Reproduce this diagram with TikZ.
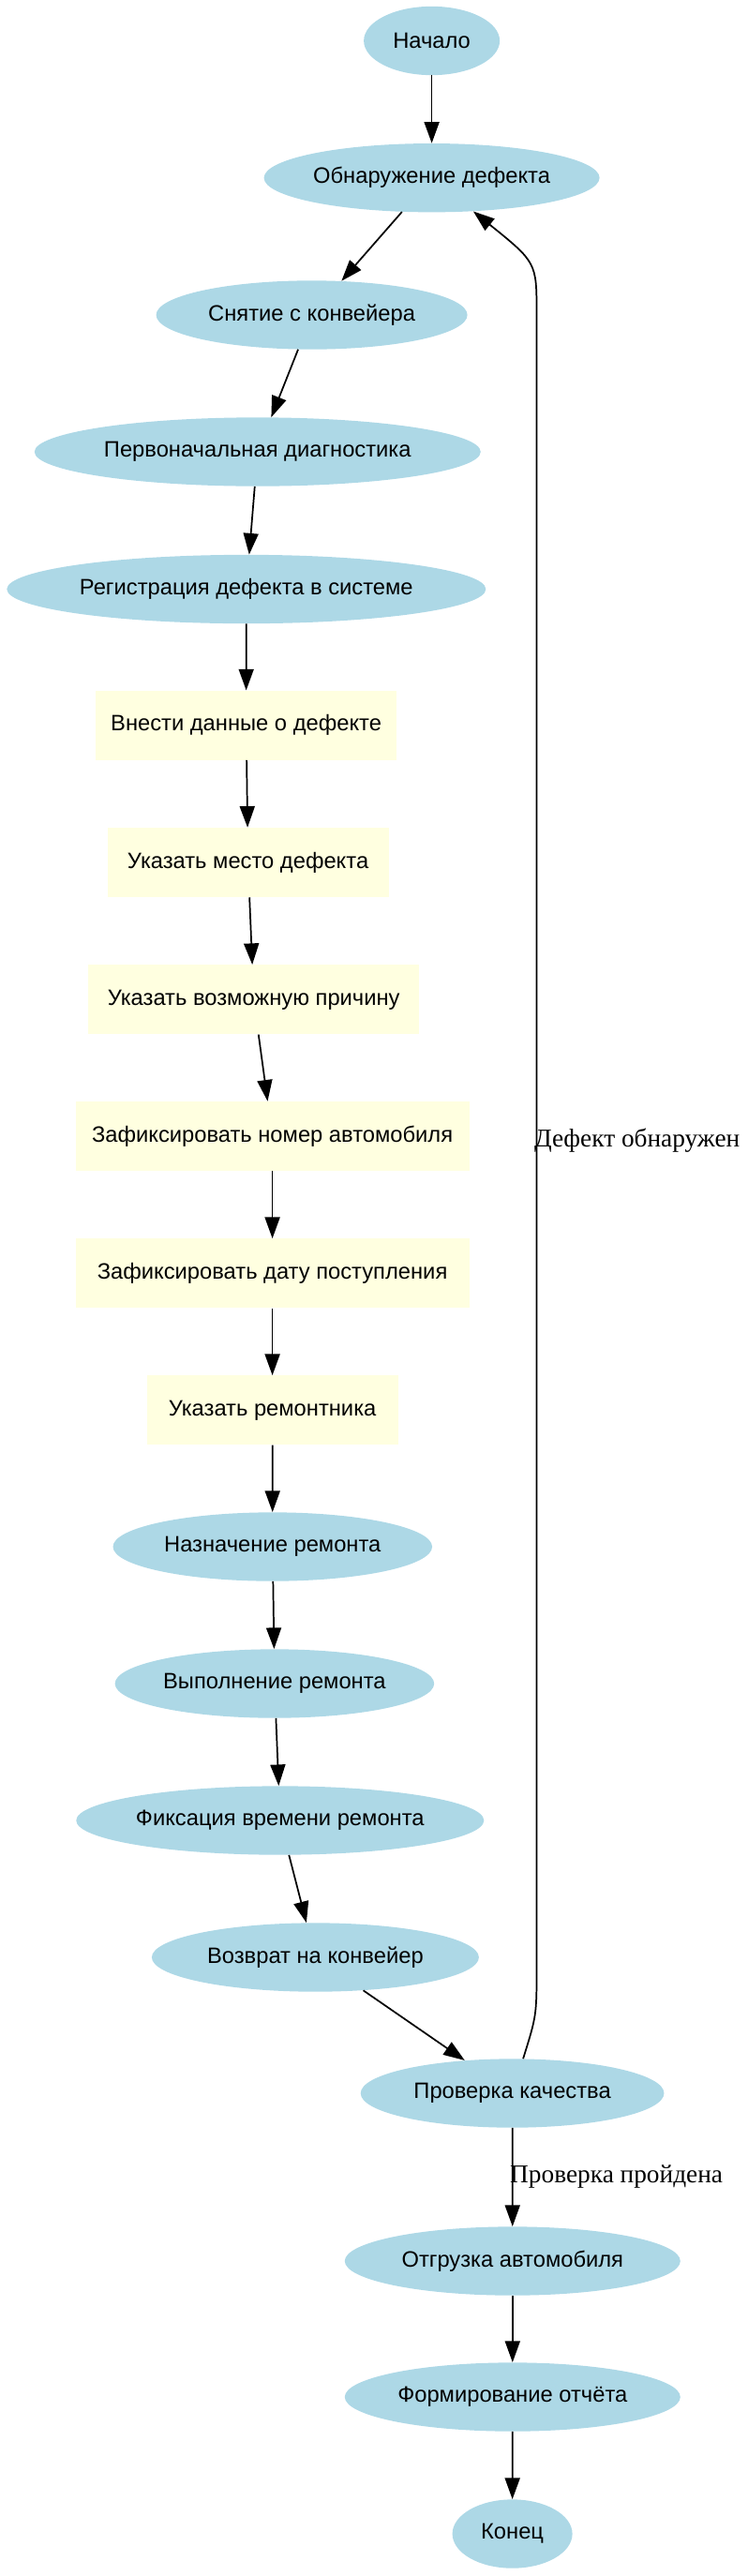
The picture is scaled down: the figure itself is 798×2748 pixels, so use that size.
\documentclass[tikz,border=0pt]{standalone}
\usepackage{fontspec}
\setmainfont{Liberation Serif}
\setsansfont{Liberation Sans}
\usetikzlibrary{shapes.geometric}
\usetikzlibrary{arrows.meta}
\definecolor{stageblue}{RGB}{173,216,230}
\definecolor{entryyellow}{RGB}{255,255,224}

\begin{document}
\begin{tikzpicture}[
x = 0.75pt, y = -0.75pt,
stage/.style = {shape = ellipse, fill = stageblue, minimum height = 55pt, inner sep = 0pt, font = \sffamily\fontsize{17.8}{21}\selectfont},
entry/.style = {shape = rectangle, fill = entryyellow, minimum height = 55.5pt, inner sep = 0pt, font = \sffamily\fontsize{17.8}{21}\selectfont},
flow/.style = {-{Triangle[length = 17pt, width = 12pt]}, line width = 1.3pt},
tag/.style = {font = \rmfamily\fontsize{20.5}{24}\selectfont, inner sep = 0pt, xshift = -2.5pt},
]
\useasboundingbox (0, 0) rectangle (798, 2748);

\node[stage, minimum width = 108.75pt] (start) at (460.6, 43.5) {Начало};
\node[stage, minimum width = 268.5pt] (detect) at (460.6, 189.7) {Обнаружение дефекта};
\node[stage, minimum width = 249pt] (remove) at (332.6, 336) {Снятие с конвейера};
\node[stage, minimum width = 357pt] (diag) at (274.8, 482) {Первоначальная диагностика};
\node[stage, minimum width = 383.25pt] (reg) at (262.8, 628.5) {Регистрация дефекта в системе};

\node[entry, minimum width = 240.5pt] (data) at (262.6, 773.7) {Внести данные о дефекте};
\node[entry, minimum width = 225pt] (place) at (264.6, 920) {Указать место дефекта};
\node[entry, minimum width = 264.75pt] (cause) at (270.7, 1066.3) {Указать возможную причину};
\node[entry, minimum width = 315pt] (vin) at (290.6, 1212) {Зафиксировать номер автомобиля};
\node[entry, minimum width = 315pt] (date) at (290.6, 1358.4) {Зафиксировать дату поступления};
\node[entry, minimum width = 201pt] (fitter) at (290.6, 1504.4) {Указать ремонтника};

\node[stage, minimum width = 255.4pt] (assign) at (290.8, 1650) {Назначение ремонта};
\node[stage, minimum width = 255.4pt] (repair) at (292.9, 1796) {Выполнение ремонта};
\node[stage, minimum width = 326pt] (rtime) at (298.8, 1942) {Фиксация времени ремонта};
\node[stage, minimum width = 261.75pt] (back) at (336.4, 2088) {Возврат на конвейер};
\node[stage, minimum width = 242.8pt] (check) at (546.6, 2233) {Проверка качества};
\node[stage, minimum width = 268.5pt] (ship) at (546.8, 2412) {Отгрузка автомобиля};
\node[stage, minimum width = 268.5pt] (report) at (546.8, 2557) {Формирование отчёта};
\node[stage, minimum width = 96pt] (finish) at (546.6, 2703) {Конец};

\path[flow] (start) edge (detect);
\path[flow] (detect) edge (remove);
\path[flow] (remove) edge (diag);
\path[flow] (diag) edge (reg);
\path[flow] (reg) edge (data);
\path[flow] (data) edge (place);
\path[flow] (place) edge (cause);
\path[flow] (cause) edge (vin);
\path[flow] (vin) edge (date);
\path[flow] (date) edge (fitter);
\path[flow] (fitter) edge (assign);
\path[flow] (assign) edge (repair);
\path[flow] (repair) edge (rtime);
\path[flow] (rtime) edge (back);
\path[flow] (back) edge (check);
\path[flow] (check) edge node[tag, right, midway] {Проверка пройдена} (ship);
\path[flow] (ship) edge (report);
\path[flow] (report) edge (finish);

% back to detection
\coordinate (turnlow) at (572.5, 2098);
\coordinate (turnhigh) at (572.5, 335);
\draw[flow] (check) .. controls (572.5, 2150) .. (turnlow) -- node[tag, right, midway] {Дефект обнаружен} (turnhigh) .. controls (572.5, 280) .. (detect);
\end{tikzpicture}
\end{document}
